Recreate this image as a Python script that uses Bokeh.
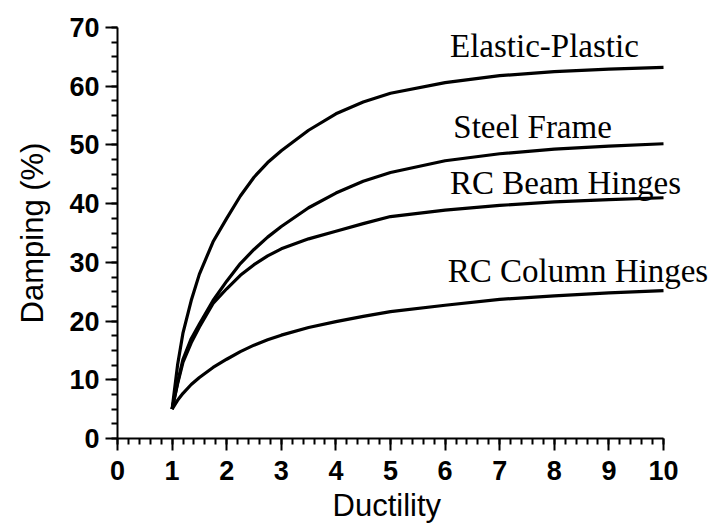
from bokeh.plotting import figure
from bokeh.models import Range1d, SingleIntervalTicker, Label, Title
from bokeh.embed import file_html
from bokeh.resources import INLINE

# Ductility values
ductility = [1, 1.1, 1.2, 1.35, 1.5, 1.75, 2, 2.25, 2.5, 2.75, 3, 3.5, 4, 4.5, 5, 6, 7, 8, 9, 10]

# Damping (%)
elastic_plastic = [5, 12.5, 18, 23.5, 28, 33.5, 37.5, 41.3, 44.5, 47, 49, 52.5, 55.3, 57.3, 58.8, 60.6, 61.8, 62.5, 62.9, 63.2]
steel_frame = [5, 9.5, 13.5, 17, 19.5, 23.5, 26.8, 29.8, 32.2, 34.3, 36.1, 39.3, 41.8, 43.8, 45.3, 47.3, 48.5, 49.3, 49.8, 50.2]
rc_beam = [5, 9.3, 13, 16.3, 19, 23, 25.5, 27.8, 29.6, 31.1, 32.3, 34, 35.3, 36.6, 37.8, 38.9, 39.7, 40.3, 40.7, 41]
rc_column = [5, 6.5, 7.7, 9.2, 10.4, 12.1, 13.5, 14.8, 15.9, 16.8, 17.6, 18.9, 19.9, 20.8, 21.6, 22.7, 23.7, 24.3, 24.8, 25.2]

series = [elastic_plastic, steel_frame, rc_beam, rc_column]
series_names = ["Elastic-Plastic", "Steel Frame", "RC Beam Hinges", "RC Column Hinges"]
# label anchors (data units: left x, vertical centre y)
label_x = [6.09, 6.15, 6.09, 6.05]
label_y = [66.8, 53.0, 43.5, 28.6]

p = figure(frame_width=591, frame_height=411,
           min_border_left=117, min_border_right=0,
           min_border_top=27, min_border_bottom=0,
           x_range=Range1d(0, 10.824), y_range=Range1d(0, 70),
           output_backend="svg", toolbar_location=None,
           background_fill_color="white", border_fill_color="white")
p.outline_line_color = None
p.grid.visible = False

for ys in series:
    p.line(ductility, ys, line_color="black", line_width=3.2, line_join="round")

for name, lx, ly in zip(series_names, label_x, label_y):
    p.add_layout(Label(x=lx, y=ly, text=name, text_font="Liberation Serif",
                       text_font_size="33px", text_color="black",
                       text_baseline="alphabetic", text_align="left"))

p.xaxis.ticker = SingleIntervalTicker(interval=1, num_minor_ticks=5)
p.yaxis.ticker = SingleIntervalTicker(interval=10, num_minor_ticks=4)
p.xaxis.bounds = (0, 10)

for ax in (p.xaxis[0], p.yaxis[0]):
    ax.axis_line_width = 2
    ax.axis_line_color = "black"
    ax.major_tick_line_width = 2
    ax.minor_tick_line_width = 2
    ax.major_tick_line_color = "black"
    ax.minor_tick_line_color = "black"
    ax.major_tick_out = 12
    ax.major_tick_in = 0
    ax.minor_tick_out = 6
    ax.minor_tick_in = 0
    ax.major_label_text_font = "Liberation Sans"
    ax.major_label_text_font_style = "bold"
    ax.major_label_text_font_size = "27px"
    ax.major_label_text_color = "black"
    ax.axis_label_text_font = "Liberation Sans"
    ax.axis_label_text_font_style = "normal"
    ax.axis_label_text_font_size = "31px"
    ax.axis_label_text_color = "black"

p.yaxis.axis_label = "Damping (%)"
p.xaxis.major_label_standoff = 10
p.yaxis.major_label_standoff = 6
p.yaxis.axis_label_standoff = 16

xtitle = Title(text="Ductility", align="left", offset=215, standoff=6,
               text_font="Liberation Sans", text_font_size="31px",
               text_font_style="normal", text_color="black")
p.add_layout(xtitle, "below")

open("out.html", "w").write(file_html(p, INLINE))
